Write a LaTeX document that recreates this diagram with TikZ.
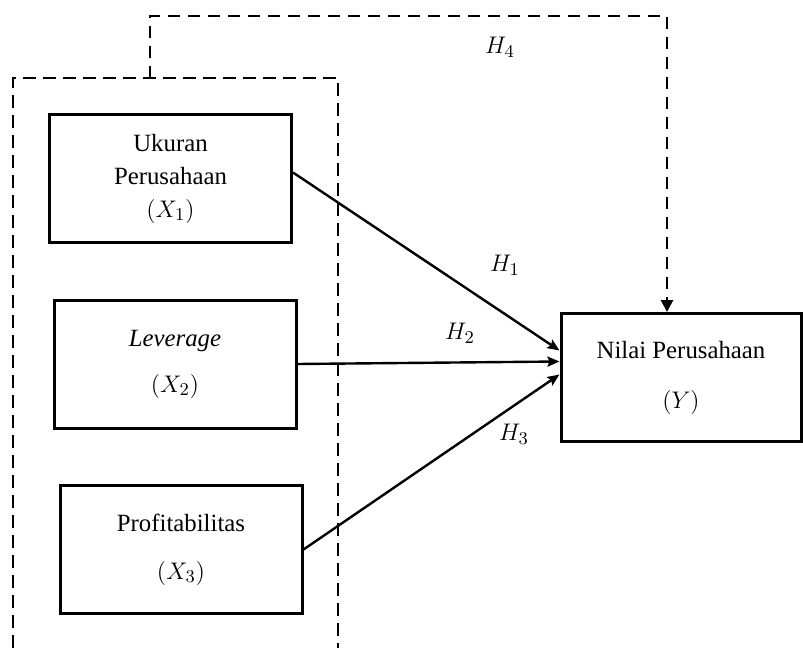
\documentclass[tikz,border=0pt]{standalone}
\usepackage{fontspec}
\setmainfont{Liberation Serif}
\usetikzlibrary{arrows.meta,positioning,calc}

\begin{document}
\begin{tikzpicture}[x=0.5pt, y=-0.5pt,
  varbox/.style={draw=black, line width=1.5pt, minimum width=121pt, minimum height=64pt,
    align=center, inner sep=2pt, font=\fontsize{12.4}{15}\selectfont},
  frameline/.style={draw=black, line width=1.4pt, dash pattern=on 6.5pt off 3.5pt},
  pathline/.style={-{Stealth[length=6pt,width=5pt,inset=1pt]}, line width=1.2pt},
  hypo/.style={font=\fontsize{12.4}{15}\selectfont}]

\useasboundingbox (0,0) rectangle (803,648);

% group frame (open at the bottom)
\draw[frameline] (13,648) -- (13,78) -- (338,78) -- (338,648);
\coordinate (grp) at (150,78);

% variables
\node[varbox] (x1) at (170.5,178.5) {Ukuran\\[1.5pt] Perusahaan\\[1.5pt] $(X_1)$};
\node[varbox] (x2) at (175,364) {\textit{Leverage}\\[8pt] $(X_2)$};
\node[varbox] (x3) at (181,549.5) {Profitabilitas\\[9pt] $(X_3)$};
\node[varbox, minimum width=120pt] (yv) at (681,377.5) {Nilai Perusahaan\\[10pt] $(Y)$};

% paths
\draw[pathline] ([yshift=3pt]x1.east) -- ([yshift=13.5pt]yv.west);
\draw[pathline] (x2.east) -- ([yshift=8pt]yv.west);
\draw[pathline] (x3.east) -- ([yshift=1.5pt]yv.west);
\coordinate (top1) at (150,16);
\coordinate (top2) at (667,16);
\draw[frameline, -{Triangle[length=6pt,width=6pt]}, dash pattern=on 6pt off 4pt]
  (grp) -- (top1) -- (top2) -- (top2 |- yv.north);

% labels
\node[hypo] (h1) at (505,265) {$H_1$};
\node[hypo] (h2) at (460,333) {$H_2$};
\node[hypo] (h3) at (514,434) {$H_3$};
\node[hypo] (h4) at (500,47) {$H_4$};

\end{tikzpicture}
\end{document}
